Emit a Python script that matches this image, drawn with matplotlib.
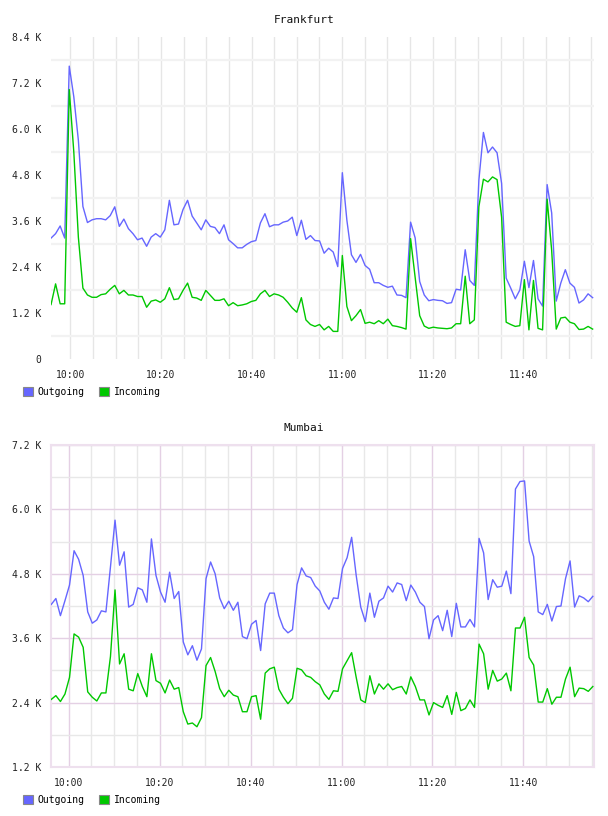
import numpy as np
import matplotlib
matplotlib.use("Agg")
import matplotlib.pyplot as plt
from matplotlib.patches import Patch

# valeurs en milliers (K), un point par minute environ
frankfurt_out = [3.155, 3.27, 3.47, 3.155, 7.64, 6.84, 5.71, 3.98, 3.56, 3.63,
                 3.66, 3.66, 3.63, 3.74, 3.97, 3.46, 3.65, 3.40, 3.27, 3.11,
                 3.155, 2.94, 3.18, 3.27, 3.18, 3.37, 4.14, 3.50, 3.52, 3.90,
                 4.14, 3.73, 3.55, 3.37, 3.63, 3.46, 3.43, 3.27, 3.50, 3.11,
                 3.01, 2.90, 2.90, 2.99, 3.06, 3.09, 3.55, 3.79, 3.45, 3.50,
                 3.50, 3.57, 3.60, 3.70, 3.22, 3.62, 3.12, 3.22, 3.09, 3.08,
                 2.76, 2.89, 2.79, 2.41, 4.86, 3.62, 2.72, 2.52, 2.73, 2.44,
                 2.34, 1.99, 1.99, 1.92, 1.87, 1.90, 1.67, 1.66, 1.60, 3.57,
                 3.16, 2.02, 1.67, 1.52, 1.55, 1.53, 1.52, 1.45, 1.47, 1.82,
                 1.80, 2.85, 2.05, 1.92, 4.66, 5.91, 5.38, 5.53, 5.38, 4.58,
                 2.11, 1.85, 1.57, 1.80, 2.55, 1.86, 2.57, 1.57, 1.38, 4.55,
                 3.81, 1.51, 1.98, 2.33, 1.98, 1.87, 1.46, 1.54, 1.70, 1.60]
frankfurt_in = [1.42, 1.96, 1.44, 1.44, 7.03, 5.40, 3.18, 1.85, 1.67, 1.61,
                1.61, 1.68, 1.70, 1.82, 1.92, 1.70, 1.79, 1.67, 1.67, 1.63,
                1.63, 1.35, 1.51, 1.54, 1.48, 1.57, 1.86, 1.55, 1.57, 1.79,
                1.98, 1.61, 1.59, 1.53, 1.79, 1.66, 1.53, 1.53, 1.57, 1.39,
                1.47, 1.39, 1.41, 1.44, 1.50, 1.53, 1.70, 1.79, 1.63, 1.70,
                1.67, 1.61, 1.48, 1.33, 1.22, 1.60, 1.02, 0.90, 0.85, 0.90,
                0.76, 0.85, 0.72, 0.72, 2.70, 1.37, 1.00, 1.13, 1.29, 0.93,
                0.96, 0.92, 1.00, 0.92, 1.04, 0.87, 0.85, 0.82, 0.78, 3.14,
                2.13, 1.13, 0.86, 0.80, 0.83, 0.81, 0.80, 0.79, 0.81, 0.92,
                0.92, 2.16, 0.92, 1.02, 3.97, 4.69, 4.62, 4.75, 4.68, 3.70,
                0.96, 0.90, 0.85, 0.87, 2.07, 0.76, 2.05, 0.80, 0.76, 4.17,
                2.83, 0.78, 1.07, 1.09, 0.96, 0.92, 0.77, 0.78, 0.85, 0.78]

mumbai_out = [4.23, 4.34, 4.02, 4.30, 4.59, 5.23, 5.07, 4.77, 4.09, 3.88,
              3.94, 4.11, 4.09, 4.93, 5.80, 4.96, 5.21, 4.18, 4.23, 4.54,
              4.50, 4.27, 5.45, 4.77, 4.46, 4.27, 4.83, 4.34, 4.47, 3.53,
              3.29, 3.46, 3.19, 3.40, 4.71, 5.02, 4.80, 4.35, 4.15, 4.29,
              4.12, 4.27, 3.63, 3.59, 3.86, 3.93, 3.37, 4.24, 4.44, 4.44,
              4.02, 3.79, 3.70, 3.76, 4.60, 4.91, 4.76, 4.73, 4.57, 4.48,
              4.27, 4.14, 4.35, 4.34, 4.90, 5.10, 5.48, 4.77, 4.18, 3.91,
              4.44, 3.99, 4.29, 4.35, 4.57, 4.46, 4.63, 4.60, 4.30, 4.59,
              4.46, 4.27, 4.19, 3.59, 3.94, 4.02, 3.74, 4.12, 3.63, 4.25,
              3.81, 3.81, 3.95, 3.81, 5.46, 5.19, 4.32, 4.69, 4.55, 4.57,
              4.85, 4.43, 6.38, 6.52, 6.53, 5.41, 5.12, 4.09, 4.04, 4.23,
              3.92, 4.19, 4.20, 4.71, 5.04, 4.18, 4.39, 4.35, 4.28, 4.38]
mumbai_in = [2.46, 2.53, 2.42, 2.56, 2.87, 3.68, 3.62, 3.43, 2.60, 2.50,
             2.43, 2.58, 2.58, 3.26, 4.50, 3.12, 3.31, 2.65, 2.62, 2.94,
             2.70, 2.51, 3.31, 2.81, 2.76, 2.58, 2.82, 2.65, 2.68, 2.23,
             2.00, 2.02, 1.95, 2.12, 3.09, 3.24, 2.98, 2.66, 2.51, 2.63,
             2.54, 2.51, 2.23, 2.23, 2.51, 2.53, 2.09, 2.95, 3.03, 3.06,
             2.65, 2.50, 2.38, 2.48, 3.04, 3.01, 2.90, 2.87, 2.79, 2.73,
             2.56, 2.46, 2.62, 2.61, 3.03, 3.18, 3.33, 2.87, 2.45, 2.40,
             2.90, 2.56, 2.75, 2.65, 2.75, 2.64, 2.68, 2.70, 2.56, 2.88,
             2.70, 2.45, 2.45, 2.17, 2.40, 2.35, 2.31, 2.53, 2.18, 2.59,
             2.25, 2.29, 2.45, 2.31, 3.49, 3.31, 2.65, 3.00, 2.80, 2.84,
             2.95, 2.62, 3.79, 3.79, 3.99, 3.24, 3.10, 2.41, 2.41, 2.66,
             2.37, 2.50, 2.50, 2.84, 3.06, 2.51, 2.67, 2.66, 2.61, 2.70]

# minutes par rapport a 10:00
frankfurt_t = np.linspace(-4.25, 115.3, len(frankfurt_out))
mumbai_t = np.linspace(-3.8, 115.25, len(mumbai_out))

xtick_pos = [0, 20, 40, 60, 80, 100]
xtick_labels = ["10:00", "10:20", "10:40", "11:00", "11:20", "11:40"]
frankfurt_yticks = [0, 1.2, 2.4, 3.6, 4.8, 6.0, 7.2, 8.4]
frankfurt_ylabels = ["0", "1.2 K", "2.4 K", "3.6 K", "4.8 K", "6.0 K", "7.2 K", "8.4 K"]
mumbai_yticks = [1.2, 2.4, 3.6, 4.8, 6.0, 7.2]
mumbai_ylabels = ["1.2 K", "2.4 K", "3.6 K", "4.8 K", "6.0 K", "7.2 K"]

BLEU = "#6666ff"
VERT = "#00c800"
MONO = "DejaVu Sans Mono"

fig = plt.figure(figsize=(6.08, 8.16), dpi=100)
fig.patch.set_facecolor("white")


def graphe(ax, t, out, inc, yticks, ylabels, xlim, violet):
    ax.plot(t, np.array(out) * 1000, color=BLEU, lw=1.0, zorder=3)
    ax.plot(t, np.array(inc) * 1000, color=VERT, lw=1.0, zorder=3)
    ax.set_xlim(*xlim)
    ax.set_ylim(yticks[0] * 1000, yticks[-1] * 1000)
    ax.set_yticks([v * 1000 for v in yticks])
    ax.set_yticklabels(ylabels)
    ax.set_yticks([(v + 0.6) * 1000 for v in yticks[:-1]], minor=True)
    ax.set_xticks(xtick_pos)
    ax.set_xticklabels(xtick_labels)
    ax.set_xticks(np.arange(0, 116, 5), minor=True)
    ax.tick_params(which="both", length=0, labelsize=7, colors="#222222")
    ax.tick_params(axis="y", pad=7)
    ax.tick_params(axis="x", pad=8)
    for lab in ax.get_xticklabels() + ax.get_yticklabels():
        lab.set_family(MONO)
    ax.set_axisbelow(True)
    if violet:
        ax.grid(which="minor", color="#e8e8e8", lw=1.0)
        ax.grid(which="major", color="#e4d0e4", lw=1.0)
        for s in ax.spines.values():
            s.set_color("#eee0ee")
            s.set_linewidth(1.5)
    else:
        ax.grid(which="minor", axis="y", color="#f2f2f2", lw=1.6)
        ax.grid(which="both", axis="x", color="#e6e6e6", lw=1.0)
        for s in ax.spines.values():
            s.set_visible(False)


ax1 = fig.add_axes([51 / 608, 1 - 359 / 816, 543 / 608, 322 / 816])
graphe(ax1, frankfurt_t, frankfurt_out, frankfurt_in, frankfurt_yticks,
       frankfurt_ylabels, (-4.26, 115.6), False)
ax2 = fig.add_axes([51 / 608, 1 - 767 / 816, 542.5 / 608, 322 / 816])
graphe(ax2, mumbai_t, mumbai_out, mumbai_in, mumbai_yticks,
       mumbai_ylabels, (-3.87, 115.4), True)

fig.text(0.5, 1 - 20 / 816, "Frankfurt", ha="center", va="center",
         family=MONO, fontsize=8, color="#111111")
fig.text(0.5, 1 - 428 / 816, "Mumbai", ha="center", va="center",
         family=MONO, fontsize=8, color="#111111")

poignees = [Patch(facecolor=BLEU, edgecolor="#888888", lw=0.8, label="Outgoing"),
            Patch(facecolor=VERT, edgecolor="#888888", lw=0.8, label="Incoming")]
for yc in (392, 800):
    fig.legend(handles=poignees, loc="center left",
               bbox_to_anchor=(23 / 608, 1 - yc / 816), ncol=2, frameon=False,
               borderpad=0, borderaxespad=0, handlelength=1.05, handleheight=1.05,
               handletextpad=0.45, columnspacing=1.5,
               prop={"family": MONO, "size": 7})

fig.savefig("out.png", dpi=100, facecolor="white")
